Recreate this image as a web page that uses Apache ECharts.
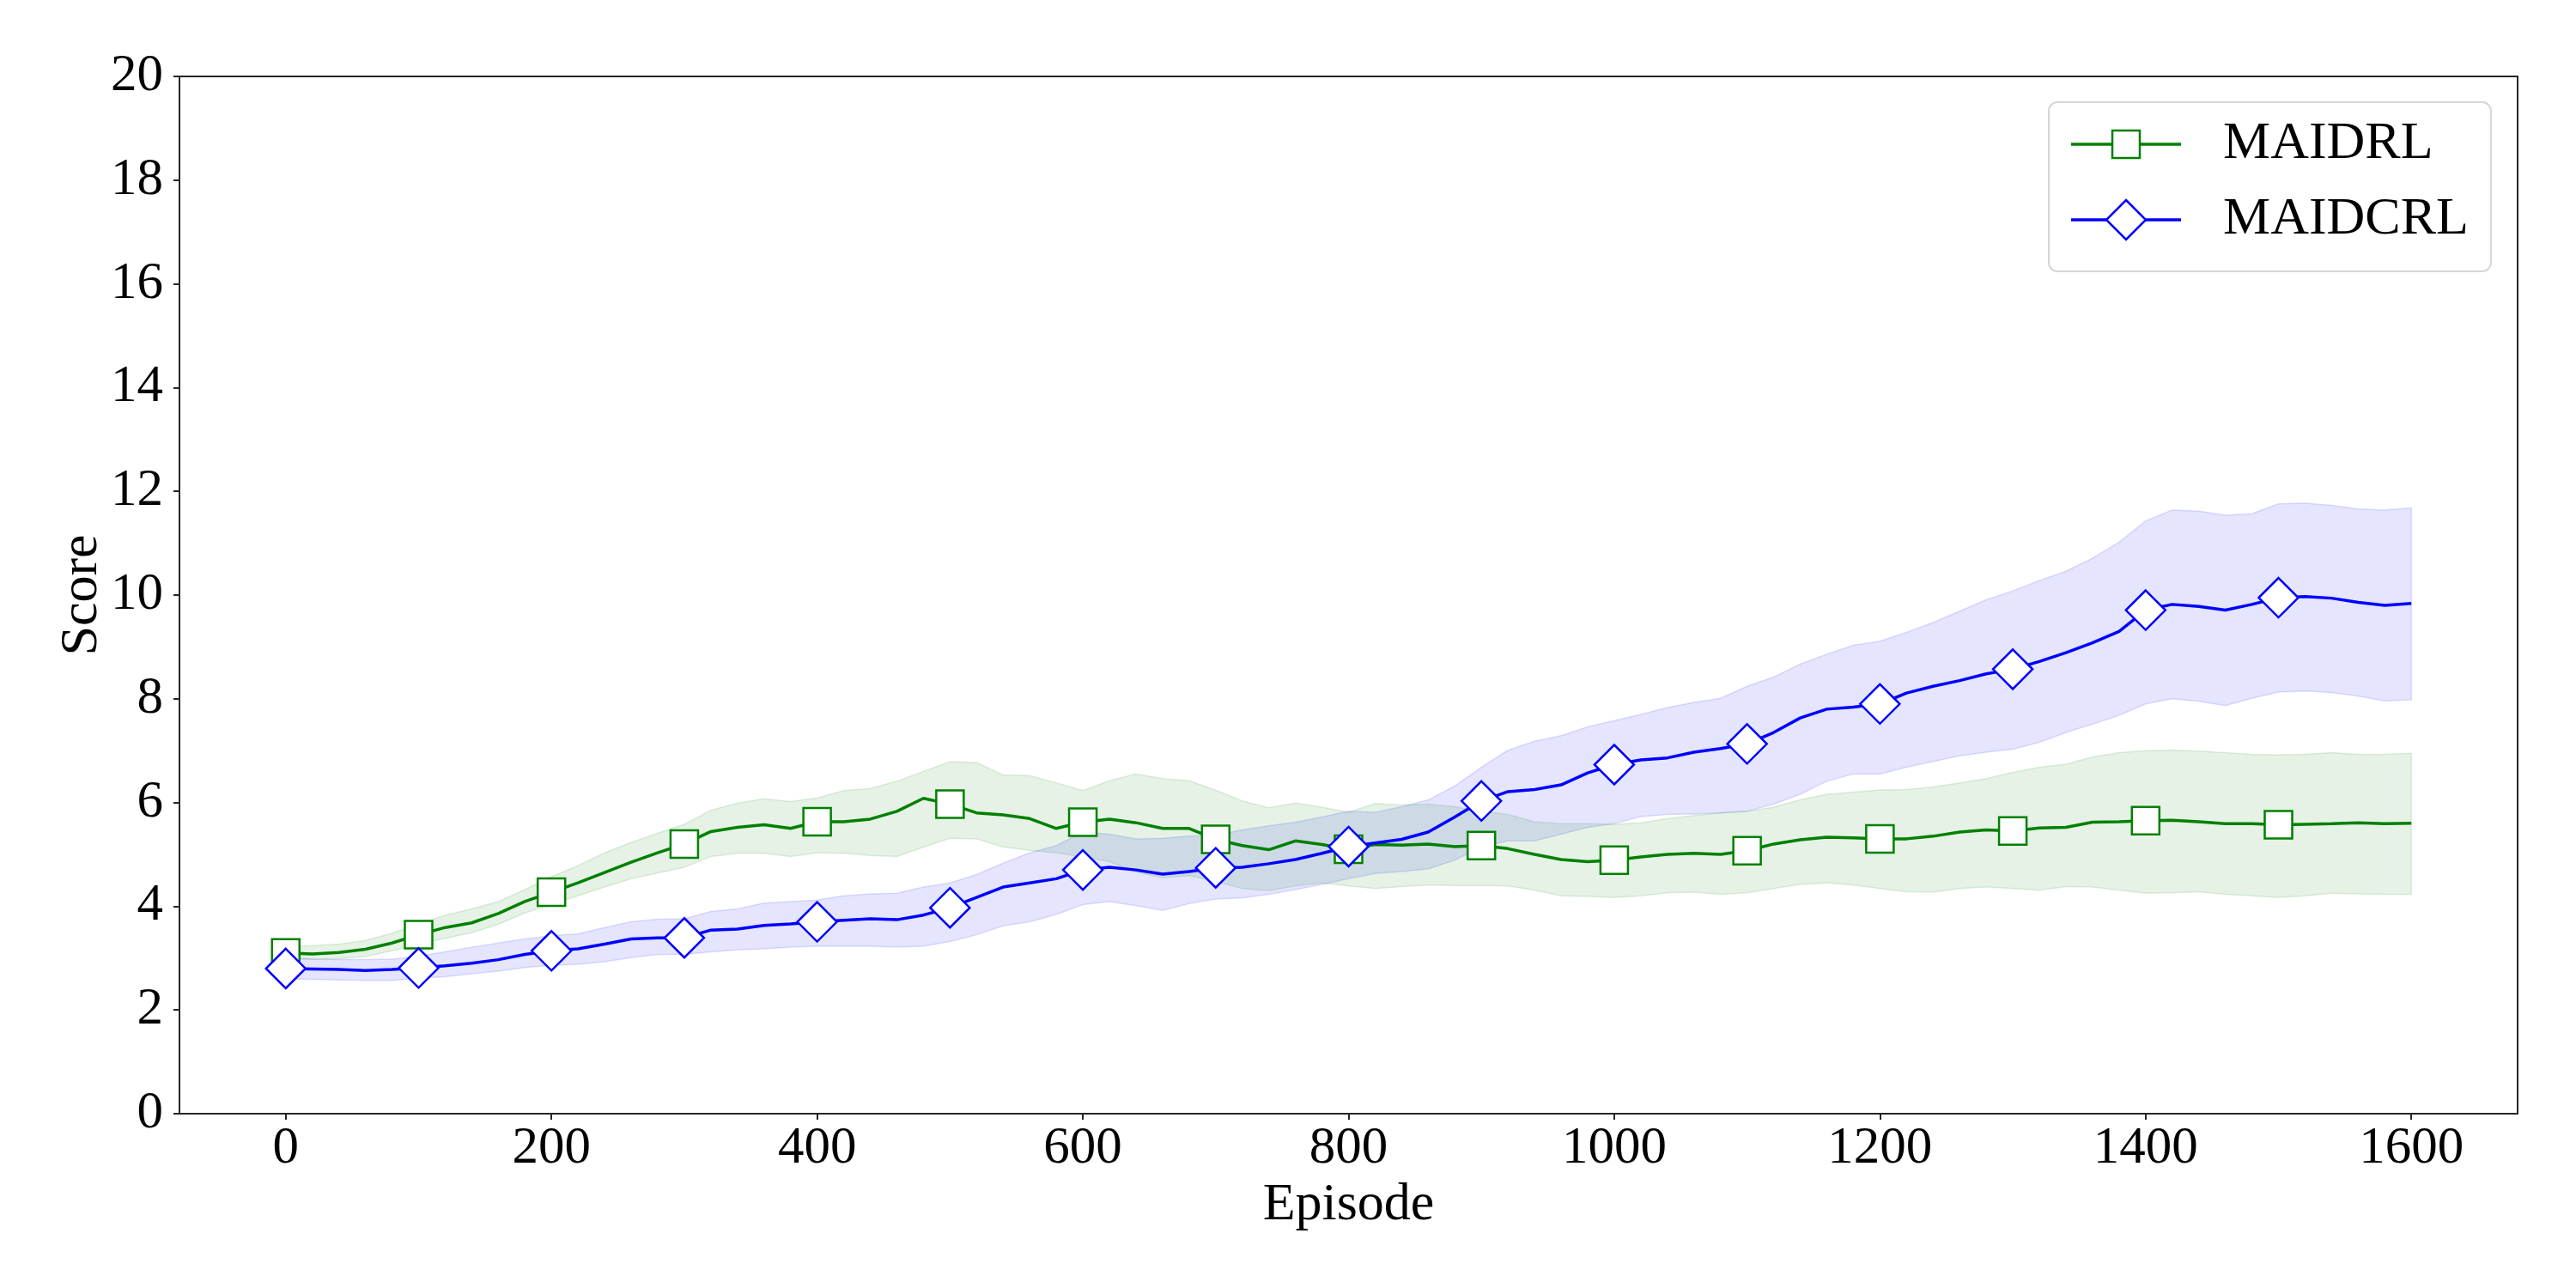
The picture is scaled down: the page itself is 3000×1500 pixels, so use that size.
<!DOCTYPE html>
<html>
<head>
<meta charset="utf-8">
<script src="https://cdn.jsdelivr.net/npm/echarts@6/dist/echarts.min.js"></script>
<style>html,body{margin:0;padding:0;background:#fff}#c{width:3000px;height:1500px}</style>
</head>
<body>
<div id="c"></div>
<script>
// ---------------- data ----------------
const episodes = [0,20,40,60,80,100,120,140,160,180,200,220,240,260,280,300,320,340,360,380,
  400,420,440,460,480,500,520,540,560,580,600,620,640,660,680,700,720,740,760,780,
  800,820,840,860,880,900,920,940,960,980,1000,1020,1040,1060,1080,1100,1120,1140,1160,1180,
  1200,1220,1240,1260,1280,1300,1320,1340,1360,1380,1400,1420,1440,1460,1480,1500,1520,1540,1560,1580,1600];

const maidrlMean = [3.10,3.08,3.11,3.17,3.29,3.45,3.59,3.68,3.86,4.09,4.27,4.45,4.65,4.85,5.03,5.20,5.44,5.52,5.57,5.50,
  5.63,5.63,5.68,5.83,6.08,5.97,5.80,5.76,5.69,5.50,5.62,5.68,5.61,5.50,5.50,5.29,5.17,5.09,5.26,5.19,
  5.10,5.19,5.18,5.20,5.15,5.17,5.11,5.00,4.90,4.86,4.89,4.95,5.00,5.02,5.00,5.07,5.20,5.28,5.33,5.32,
  5.30,5.30,5.35,5.43,5.47,5.45,5.51,5.52,5.62,5.63,5.65,5.66,5.63,5.59,5.59,5.57,5.58,5.59,5.61,5.59,5.60];
const maidrlUpper = [3.23,3.24,3.27,3.34,3.48,3.65,3.83,3.95,4.09,4.32,4.57,4.78,5.03,5.23,5.41,5.58,5.85,5.99,6.07,6.02,
  6.09,6.23,6.27,6.41,6.60,6.79,6.77,6.53,6.52,6.38,6.23,6.42,6.55,6.46,6.42,6.24,6.03,5.90,5.99,5.91,
  5.81,5.98,5.95,5.97,5.92,5.83,5.77,5.63,5.59,5.59,5.58,5.61,5.69,5.75,5.80,5.83,5.91,6.05,6.16,6.20,
  6.24,6.25,6.30,6.38,6.46,6.58,6.68,6.74,6.88,6.96,7.00,7.01,6.99,6.96,6.93,6.92,6.93,6.96,6.93,6.93,6.95];
const maidrlLower = [2.98,2.98,2.99,3.03,3.14,3.26,3.38,3.49,3.65,3.87,4.03,4.20,4.37,4.53,4.64,4.75,4.96,5.02,5.02,4.96,
  5.03,5.02,4.98,4.96,5.14,5.31,5.30,5.14,5.08,5.03,4.95,4.86,4.66,4.55,4.59,4.48,4.34,4.30,4.39,4.45,
  4.39,4.34,4.38,4.41,4.40,4.40,4.39,4.31,4.20,4.19,4.17,4.20,4.26,4.27,4.23,4.26,4.34,4.42,4.45,4.41,
  4.34,4.28,4.27,4.34,4.37,4.34,4.31,4.38,4.37,4.31,4.25,4.26,4.28,4.23,4.20,4.17,4.20,4.25,4.24,4.23,4.23];

const maidcrlMean = [2.80,2.79,2.78,2.76,2.78,2.81,2.85,2.90,2.97,3.07,3.14,3.18,3.27,3.37,3.39,3.39,3.54,3.56,3.63,3.66,
  3.70,3.73,3.76,3.74,3.83,3.97,4.17,4.37,4.45,4.53,4.70,4.75,4.70,4.62,4.67,4.74,4.75,4.82,4.90,5.02,
  5.15,5.22,5.29,5.43,5.72,6.03,6.21,6.25,6.34,6.57,6.73,6.82,6.86,6.97,7.04,7.13,7.35,7.63,7.80,7.84,
  7.90,8.11,8.24,8.35,8.48,8.57,8.72,8.89,9.08,9.30,9.71,9.82,9.78,9.71,9.82,9.95,9.97,9.94,9.86,9.80,9.84];
const maidcrlUpper = [3.01,2.98,2.97,2.97,2.98,3.04,3.12,3.21,3.29,3.37,3.43,3.47,3.59,3.70,3.75,3.76,3.90,3.95,4.06,4.09,
  4.12,4.20,4.24,4.25,4.37,4.45,4.61,4.83,5.03,5.17,5.43,5.39,5.30,5.31,5.35,5.37,5.47,5.55,5.62,5.72,
  5.83,5.81,5.92,6.05,6.32,6.68,7.01,7.18,7.29,7.46,7.58,7.70,7.83,7.93,8.01,8.24,8.42,8.67,8.86,9.03,
  9.11,9.28,9.47,9.69,9.91,10.08,10.28,10.46,10.71,11.02,11.43,11.64,11.62,11.54,11.57,11.76,11.77,11.73,11.66,11.64,11.68];
const maidcrlLower = [2.60,2.59,2.58,2.57,2.57,2.61,2.64,2.70,2.75,2.82,2.86,2.88,2.93,3.01,3.07,3.07,3.12,3.16,3.18,3.21,
  3.23,3.23,3.23,3.21,3.23,3.32,3.45,3.62,3.70,3.84,4.03,4.09,4.01,3.92,4.05,4.14,4.16,4.23,4.32,4.42,
  4.53,4.63,4.67,4.72,4.89,5.14,5.26,5.26,5.39,5.52,5.59,5.73,5.77,5.78,5.80,5.83,5.97,6.16,6.41,6.55,
  6.55,6.68,6.79,6.90,6.97,7.03,7.16,7.35,7.51,7.68,7.90,8.00,7.95,7.87,8.01,8.13,8.15,8.12,8.05,7.96,7.98];

const markerEpisodes = [0,100,200,300,400,500,600,700,800,900,1000,1100,1200,1300,1400,1500];
const xTickValues = [0,200,400,600,800,1000,1200,1400,1600];
const yTickValues = [0,2,4,6,8,10,12,14,16,18,20];
const seriesNames = ['MAIDRL','MAIDCRL'];

// ---------------- chart ----------------
const FONT = 'Liberation Serif';
const GREEN = '#008000', BLUE = '#0000ff', AXIS = '#262626';

function svgIcon(svg){ return 'image://data:image/svg+xml;charset=utf-8,' + encodeURIComponent(svg); }
const greenIcon = svgIcon("<svg xmlns='http://www.w3.org/2000/svg' width='128' height='50' viewBox='0 0 128 50'>" +
  "<line x1='0' y1='25' x2='128' y2='25' stroke='" + GREEN + "' stroke-width='3.5'/>" +
  "<rect x='48' y='9' width='32' height='32' fill='#fff' stroke='" + GREEN + "' stroke-width='2.5'/></svg>");
const blueIcon = svgIcon("<svg xmlns='http://www.w3.org/2000/svg' width='128' height='50' viewBox='0 0 128 50'>" +
  "<line x1='0' y1='25' x2='128' y2='25' stroke='" + BLUE + "' stroke-width='3.5'/>" +
  "<polygon points='64,2 87,25 64,48 41,25' fill='#fff' stroke='" + BLUE + "' stroke-width='2.5'/></svg>");

function band(upper, lower, fill, stroke){
  return {
    type: 'custom', silent: true, z: 1,
    data: episodes.map((e, i) => [e, lower[i], upper[i]]),
    encode: { x: 0, y: [1, 2] },
    renderItem: function(params, api){
      if (params.dataIndex !== 0) return null;
      const top = episodes.map((e, i) => api.coord([e, upper[i]]));
      const bot = episodes.map((e, i) => api.coord([e, lower[i]])).reverse();
      return { type: 'polygon', shape: { points: top.concat(bot) },
               style: { fill: fill, stroke: stroke, lineWidth: 1.5 } };
    }
  };
}

function lineSeries(name, values, color, symbol, size){
  return {
    type: 'line', name: name, z: 3,
    data: episodes.map((e, i) => [e, values[i]]),
    lineStyle: { color: color, width: 3.5 },
    itemStyle: { color: '#fff', borderColor: color, borderWidth: 2.5 },
    symbol: symbol,
    symbolSize: v => markerEpisodes.includes(v[0]) ? size : 0,
    showSymbol: true, showAllSymbol: true,
    emphasis: { disabled: true }, silent: true
  };
}

const chart = echarts.init(document.getElementById('c'), null, { renderer: 'canvas' });
chart.setOption({
  animation: false,
  backgroundColor: '#fff',
  grid: { left: 209, right: 68, top: 89, bottom: 203, show: true,
          borderColor: AXIS, borderWidth: 2, backgroundColor: 'transparent' },
  legend: {
    orient: 'vertical', left: 2386, top: 119,
    padding: [18, 26, 29, 26],
    itemWidth: 128, itemHeight: 50, itemGap: 26,
    backgroundColor: '#fff', borderColor: '#d6d6d6', borderWidth: 2, borderRadius: 10,
    textStyle: { fontFamily: FONT, fontSize: 62, color: '#000', rich: { gap: { width: 44 } } },
    formatter: n => '{gap| }' + n,
    selectedMode: false,
    data: [ { name: seriesNames[0], icon: greenIcon }, { name: seriesNames[1], icon: blueIcon } ]
  },
  xAxis: {
    type: 'value', min: -80, max: 1680,
    name: 'Episode', nameLocation: 'middle', nameGap: 69,
    nameTextStyle: { fontFamily: FONT, fontSize: 62, color: '#000' },
    axisLine: { show: false },
    axisTick: { show: true, length: 7, lineStyle: { color: AXIS, width: 2 }, customValues: xTickValues },
    axisLabel: { fontFamily: FONT, fontSize: 61, color: '#000', margin: 10, customValues: xTickValues,
                 formatter: v => String(v) },
    splitLine: { show: false }
  },
  yAxis: {
    type: 'value', min: 0, max: 20, interval: 2,
    name: 'Score', nameLocation: 'middle', nameGap: 82, nameRotate: 90, nameMoveOverlap: false,
    nameTextStyle: { fontFamily: FONT, fontSize: 62, color: '#000' },
    axisLine: { show: false, onZero: false },
    axisTick: { show: true, length: 7, lineStyle: { color: AXIS, width: 2 }, customValues: yTickValues },
    axisLabel: { fontFamily: FONT, fontSize: 61, color: '#000', margin: 19, customValues: yTickValues,
                 formatter: v => String(v) },
    splitLine: { show: false }
  },
  series: [
    band(maidcrlUpper, maidcrlLower, 'rgba(0,0,255,0.1)', 'rgba(0,0,255,0.12)'),
    band(maidrlUpper, maidrlLower, 'rgba(0,128,0,0.1)', 'rgba(0,128,0,0.12)'),
    lineSeries(seriesNames[0], maidrlMean, GREEN, 'rect', 32),
    lineSeries(seriesNames[1], maidcrlMean, BLUE, 'diamond', 46)
  ]
});
</script>
</body>
</html>
